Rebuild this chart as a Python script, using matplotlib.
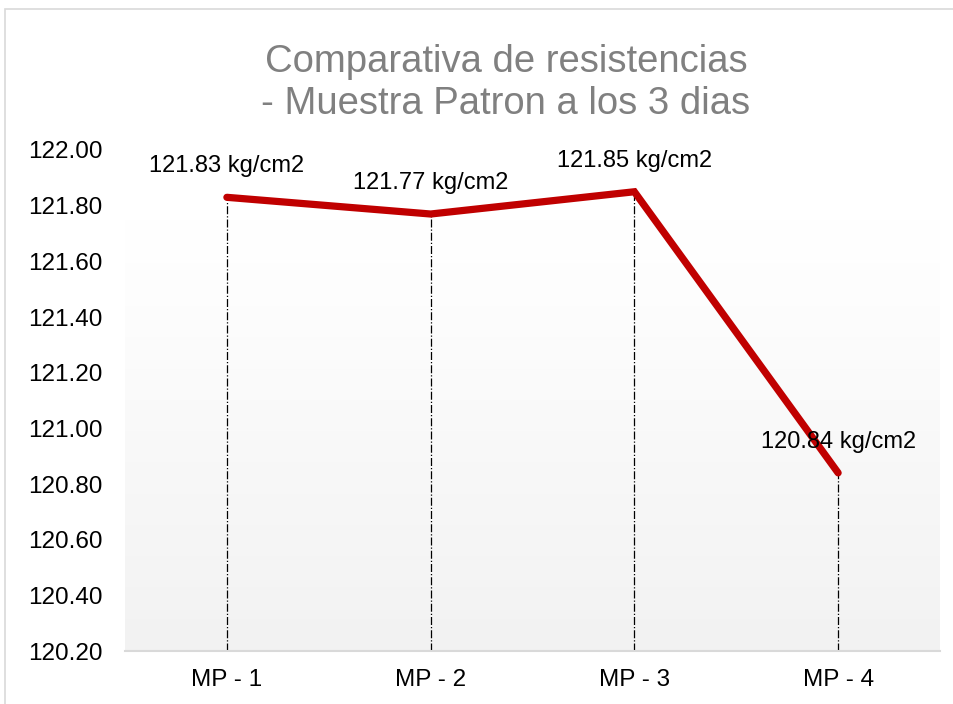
import numpy as np
import matplotlib
matplotlib.use("Agg")
import matplotlib.pyplot as plt
from matplotlib.patches import Rectangle

categories = ["MP - 1", "MP - 2", "MP - 3", "MP - 4"]
values = [121.83, 121.77, 121.85, 120.84]
yticks = [120.20, 120.40, 120.60, 120.80, 121.00, 121.20, 121.40, 121.60, 121.80, 122.00]

plt.rcParams['font.family'] = ['Liberation Sans', 'DejaVu Sans']

W, H = 954, 704
fig = plt.figure(figsize=(W/100, H/100), dpi=100)
fig.patch.set_facecolor('white')

# chart border
fig.add_artist(Rectangle((5/W, -5/H), (W+5)/W, (H-4)/H, transform=fig.transFigure,
                         fill=False, edgecolor='#d9d9d9', lw=1.2))

left, right, top, bottom = 125, 940, 150, 651
ax = fig.add_axes([left/W, 1-bottom/H, (right-left)/W, (bottom-top)/H])
ax.set_xlim(-0.5, len(categories)-0.5)
ax.set_ylim(120.20, 122.00)

# gradient background
grad = np.linspace(0, 1, 256).reshape(-1, 1)
cmap = matplotlib.colors.LinearSegmentedColormap.from_list(
    'g', [(0, '#f2f2f2'), (0.8, '#fdfdfd'), (1, '#ffffff')])
ax.imshow(grad, extent=[-0.5, len(categories)-0.5, 120.20, 121.75], origin='lower',
          aspect='auto', cmap=cmap, zorder=0)

x = np.arange(len(categories))
for xi, v in zip(x, values):
    ax.plot([xi, xi], [120.20, v], color='black', lw=0.9, ls='-.', zorder=2)
ax.plot(x, values, color='#C00000', lw=5.2, solid_capstyle='round', solid_joinstyle='miter', zorder=3)

for xi, v in zip(x, values):
    ax.annotate(f"{v:.2f} kg/cm2", (xi, v), xytext=(0, 22.5), textcoords='offset points',
                ha='center', va='center', fontsize=17, color='black', zorder=4)

ax.set_xticks(x)
ax.set_xticklabels(categories, fontsize=17.5)
ax.set_yticks(yticks)
ax.set_yticklabels([f"{t:.2f}" for t in yticks], fontsize=17.5)
ax.tick_params(length=0)
ax.tick_params(axis='x', pad=13)
ax.tick_params(axis='y', pad=16)
for s in ['left', 'right', 'top']:
    ax.spines[s].set_visible(False)
ax.spines['bottom'].set_color('#d9d9d9')
ax.spines['bottom'].set_linewidth(1.5)

fig.text(506/W, 1-62/H, "Comparativa de resistencias", ha='center', va='center',
         fontsize=27.5, color='#808080')
fig.text(506/W, 1-104/H, "- Muestra Patron a los 3 dias", ha='center', va='center',
         fontsize=27.5, color='#808080')

fig.savefig('out.png', dpi=100)
